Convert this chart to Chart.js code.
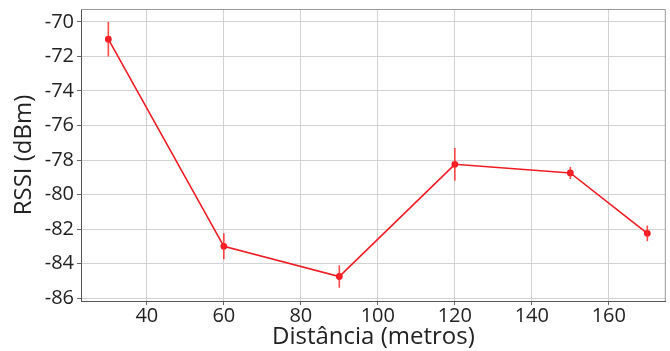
<!DOCTYPE html>
<html><head><meta charset="utf-8">
<script src="https://cdn.jsdelivr.net/npm/chart.js@4.4.0/dist/chart.umd.min.js"></script>
<style>html,body{margin:0;padding:0;background:#fff}#wrap{width:670px;height:351px}</style>
</head><body><div id="wrap"><canvas id="c"></canvas></div>
<script>
const distances = [30, 60, 90, 120, 150, 170];
const rssi = [-71.0, -83.0, -84.75, -78.25, -78.75, -82.25];
const rssiErr = [1.0, 0.75, 0.65, 0.95, 0.35, 0.45];
const xTicks = [40, 60, 80, 100, 120, 140, 160];
const yTicks = [-86, -84, -82, -80, -78, -76, -74, -72, -70];

const errorBars = {
  id: 'errorBars',
  afterDatasetsDraw(chart) {
    const ctx = chart.ctx, xs = chart.scales.x, ys = chart.scales.y;
    ctx.save();
    ctx.strokeStyle = 'rgba(255,40,40,0.85)';
    ctx.lineWidth = 1.6;
    distances.forEach((d, i) => {
      const px = xs.getPixelForValue(d);
      ctx.beginPath();
      ctx.moveTo(px, ys.getPixelForValue(rssi[i] - rssiErr[i]));
      ctx.lineTo(px, ys.getPixelForValue(rssi[i] + rssiErr[i]));
      ctx.stroke();
    });
    ctx.restore();
  }
};
const frame = {
  id: 'frame',
  beforeDatasetsDraw(chart) {
    const {left, right, top, bottom} = chart.chartArea, ctx = chart.ctx;
    ctx.save();
    ctx.strokeStyle = '#9a9a9a';
    ctx.lineWidth = 1;
    ctx.beginPath();
    ctx.moveTo(left, top + 0.5); ctx.lineTo(right - 0.5, top + 0.5); ctx.lineTo(right - 0.5, bottom);
    ctx.stroke();
    ctx.restore();
  }
};

new Chart(document.getElementById('c'), {
  type: 'line',
  data: {
    datasets: [{
      data: distances.map((d, i) => ({x: d, y: rssi[i]})),
      borderColor: '#f01c24',
      backgroundColor: '#f01c24',
      borderWidth: 1.6,
      pointRadius: 2.6,
      pointHoverRadius: 2.6,
      tension: 0
    }]
  },
  options: {
    responsive: true,
    maintainAspectRatio: false,
    animation: false,
    layout: {padding: {left: 0, right: 2, top: 9, bottom: 0}},
    plugins: {legend: {display: false}, tooltip: {enabled: false}},
    scales: {
      x: {
        type: 'linear', min: 22.9, max: 174.8,
        afterBuildTicks(s) { s.ticks = xTicks.map(v => ({value: v})); },
        afterFit(s) { s.height = 50; s.paddingLeft = 0; s.paddingRight = 0; },
        grid: {color: '#d2d2d2', tickLength: 4, tickColor: '#666'},
        border: {color: '#555', width: 1},
        ticks: {color: '#222', font: {family: 'Open Sans', size: 20}, padding: -1, maxRotation: 0},
        title: {display: true, text: 'Distância (metros)', color: '#222', font: {family: 'Open Sans', size: 24}, padding: {top: 0, bottom: -1}}
      },
      y: {
        type: 'linear', min: -86.17, max: -69.25,
        afterBuildTicks(s) { s.ticks = yTicks.map(v => ({value: v})); },
        afterFit(s) { s.width = 81; s.paddingTop = 0; s.paddingBottom = 0; },
        grid: {color: '#d2d2d2', tickLength: 4, tickColor: '#666'},
        border: {color: '#555', width: 1},
        ticks: {color: '#222', font: {family: 'Open Sans', size: 20}, padding: 3},
        title: {display: true, text: 'RSSI (dBm)', color: '#222', font: {family: 'Open Sans', size: 24}, padding: {top: 10, bottom: 0}}
      }
    }
  },
  plugins: [frame, errorBars]
});
</script></body></html>
